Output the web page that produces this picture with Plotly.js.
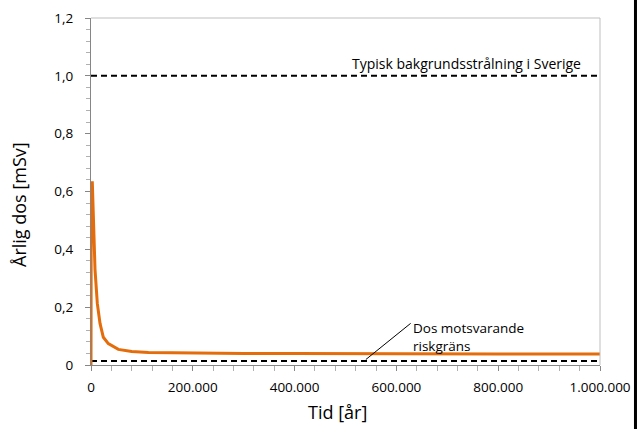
<!DOCTYPE html>
<html>
<head>
<meta charset="utf-8">
<script src="https://cdn.plot.ly/plotly-3.0.1.min.js"></script>
<style>html,body{margin:0;padding:0;background:#fff;}#chart{width:641px;height:429px;}</style>
</head>
<body>
<div id="chart"></div>
<script>
// Data
const tidAr = [0, 500, 2600, 4500, 7900, 12400, 17700, 24200, 34000, 53700, 80000, 112800, 200000, 300000, 400000, 500000, 600000, 700000, 800000, 900000, 1000000];
const arligDos = [0, 0.63, 0.63, 0.50, 0.33, 0.213, 0.144, 0.096, 0.074, 0.054, 0.047, 0.043, 0.041, 0.040, 0.040, 0.039, 0.039, 0.039, 0.038, 0.038, 0.038];
const bakgrundX = [0, 1000000];
const bakgrundY = [1.0, 1.0];
const riskX = [0, 1000000];
const riskY = [0.014, 0.014];
const yTickVals = [0, 0.2, 0.4, 0.6, 0.8, 1.0, 1.2];
const yTickText = ["0", "0,2", "0,4", "0,6", "0,8", "1,0", "1,2"];
const xTickVals = [0, 200000, 400000, 600000, 800000, 1000000];
const xTickText = ["0", "200.000", "400.000", "600.000", "800.000", "1.000.000"];

const FONT = "Open Sans, sans-serif";
const axisGray = "#868686";

const traces = [
  {x: bakgrundX, y: bakgrundY, mode: "lines", line: {color: "#000", width: 2, dash: "6px,4px"}, hoverinfo: "skip"},
  {x: riskX, y: riskY, mode: "lines", line: {color: "#000", width: 2, dash: "6px,4px"}, hoverinfo: "skip"},
  {x: tidAr, y: arligDos, mode: "lines", line: {color: "#E46C0A", width: 3}, hoverinfo: "skip"}
];

const layout = {
  width: 641, height: 429,
  margin: {l: 91, r: 41, t: 18, b: 64},
  paper_bgcolor: "#fff", plot_bgcolor: "#fff",
  showlegend: false,
  font: {family: FONT, size: 13, color: "#000"},
  xaxis: {
    range: [0, 1000000], showgrid: false, zeroline: false,
    showline: true, linecolor: axisGray, linewidth: 1,
    ticks: "outside", ticklen: 5, tickcolor: axisGray,
    tickvals: xTickVals, ticktext: xTickText,
    tickfont: {family: FONT, size: 13.5, color: "#000"},
    ticklabelstandoff: 5,
    minor: {dtick: 40000, ticks: "outside", ticklen: 5, tickcolor: "#b0b0b0"}
  },
  yaxis: {
    range: [0, 1.2], showgrid: false, zeroline: false,
    showline: true, linecolor: axisGray, linewidth: 1,
    ticks: "outside", ticklen: 5, tickcolor: axisGray,
    tickvals: yTickVals, ticktext: yTickText,
    tickfont: {family: FONT, size: 13.5, color: "#000"},
    ticklabelstandoff: 9,
    minor: {dtick: 0.04, ticks: "outside", ticklen: 4, tickcolor: "#b0b0b0"}
  },
  shapes: [
    {type: "line", xref: "paper", yref: "paper", x0: 0, x1: 1, y0: 1, y1: 1, line: {color: "#BFBFBF", width: 1}},
    {type: "line", xref: "paper", yref: "paper", x0: 1, x1: 1, y0: 0, y1: 1, line: {color: "#BFBFBF", width: 1}},
    {type: "line", xref: "paper", yref: "paper", x0: 1.0697, x1: 1.0697, y0: -0.2, y1: 1.06, line: {color: "#000", width: 3}},
    {type: "line", xref: "x", yref: "y", x0: 540000, y0: 0.019, x1: 628000, y1: 0.144, line: {color: "#000", width: 1}}
  ],
  annotations: [
    {x: 738000, y: 1.042, xref: "x", yref: "y", text: "Typisk bakgrundsstrålning i Sverige", showarrow: false, xanchor: "center", yanchor: "middle", font: {family: FONT, size: 14, color: "#000"}},
    {x: 629000, y: 0.097, xref: "x", yref: "y", text: "Dos motsvarande<br>riskgräns", showarrow: false, xanchor: "left", yanchor: "middle", align: "left", font: {family: FONT, size: 13.5, color: "#000"}},
    {x: 337, y: 412, xref: "paper", yref: "paper", text: "Tid [år]", showarrow: false, font: {family: FONT, size: 18, color: "#000"}},
    {x: 19, y: 205, xref: "paper", yref: "paper", text: "Årlig dos [mSv]", textangle: -90, showarrow: false, font: {family: FONT, size: 18, color: "#000"}}
  ]
};

// convert pixel positions of axis-title annotations to paper coordinates
(function(){
  const pw = 641 - 91 - 41, ph = 429 - 18 - 64;
  const a2 = layout.annotations[2], a3 = layout.annotations[3];
  a2.x = (a2.x - 91) / pw; a2.y = (429 - 64 - a2.y) / ph;
  a3.x = (a3.x - 91) / pw; a3.y = (429 - 64 - a3.y) / ph;
  a2.xanchor = "center"; a2.yanchor = "middle";
  a3.xanchor = "center"; a3.yanchor = "middle";
})();

Plotly.newPlot("chart", traces, layout, {staticPlot: true, displayModeBar: false});
</script>
</body>
</html>
